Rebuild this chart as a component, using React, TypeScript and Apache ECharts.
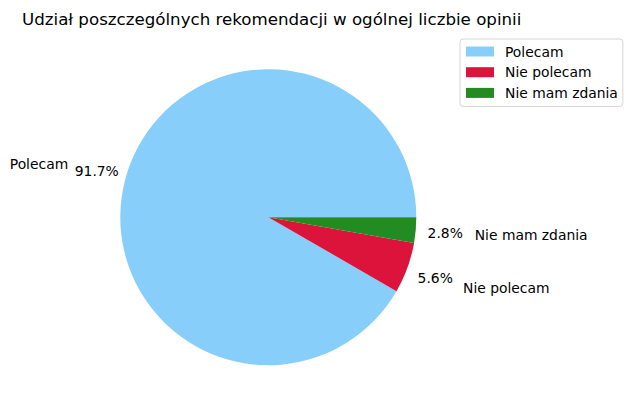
import React, { useEffect, useRef } from "react";
import * as echarts from "echarts";

const titleText = "Udział poszczególnych rekomendacji w ogólnej liczbie opinii";
const categories = ["Polecam", "Nie polecam", "Nie mam zdania"];
const counts = [33, 2, 1];
const colors = ["#87CEFA", "#DC143C", "#228B22"];

const FONT = "DejaVu Sans";
const FS = 13.89;
const CX = 268.3;
const CY = 217.2;
const R = 148;

export default function App() {
  const ref = useRef<HTMLDivElement>(null);
  useEffect(() => {
    if (!ref.current) return;
    const chart = echarts.init(ref.current, null, { renderer: "svg" });
    const total = counts.reduce((a, b) => a + b, 0);
    const pieData = categories.map((name, i) => ({
      name,
      value: counts[i],
      itemStyle: { color: colors[i] },
    }));
    const pctData = categories.map((name, i) => ({
      name: "pct-" + name,
      value: counts[i],
      itemStyle: { color: "rgba(0,0,0,0)" },
    }));
    chart.setOption({
      animation: false,
      backgroundColor: "#ffffff",
      title: {
        text: titleText,
        left: 17,
        top: 6,
        textStyle: { fontFamily: FONT, fontSize: 16.67, fontWeight: "normal", color: "#000" },
      },
      legend: {
        orient: "vertical",
        left: 460,
        top: 39,
        data: categories,
        icon: "rect",
        itemWidth: 28,
        itemHeight: 10,
        itemGap: 5.7,
        padding: [5, 5, 6, 6],
        backgroundColor: "#fff",
        borderColor: "#d5d5d5",
        borderWidth: 1,
        borderRadius: 3,
        selectedMode: false,
        textStyle: {
          fontFamily: FONT,
          fontSize: FS,
          color: "#000",
          lineHeight: 15,
          padding: [0, 0, 0, 6],
        },
      },
      series: [
        {
          type: "pie",
          center: [CX, CY],
          radius: R,
          startAngle: 0,
          clockwise: false,
          avoidLabelOverlap: false,
          silent: true,
          data: pieData,
          label: {
            show: true,
            position: "outside",
            formatter: "{b}",
            fontFamily: FONT,
            fontSize: FS,
            color: "#000",
            distanceToLabelLine: 0,
          },
          labelLine: { show: false, length: R * 0.4, length2: 0 },
          emphasis: { disabled: true },
        },
        {
          type: "pie",
          center: [CX, CY],
          radius: [R * 1.2 - 3 - 4, R * 1.2 - 3 + 4],
          startAngle: 0,
          clockwise: false,
          avoidLabelOverlap: false,
          silent: true,
          data: pctData,
          label: {
            show: true,
            position: "inside",
            formatter: (p: any) => ((p.value / total) * 100).toFixed(1) + "%",
            fontFamily: FONT,
            fontSize: FS,
            color: "#000",
          },
          labelLine: { show: false },
          emphasis: { disabled: true },
        },
      ],
    });
    return () => chart.dispose();
  }, []);
  return (
    <div
      ref={ref}
      style={{ position: "fixed", left: 0, top: 0, width: 633, height: 412 }}
    />
  );
}
